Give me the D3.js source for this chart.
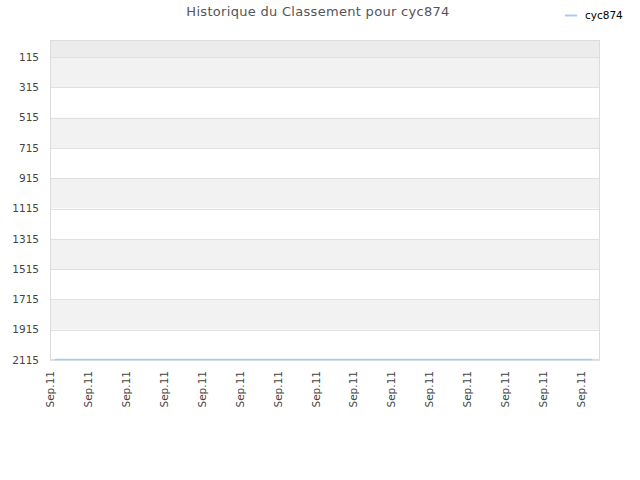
<!DOCTYPE html>
<html><head><meta charset="utf-8">
<script src="https://cdn.jsdelivr.net/npm/d3@7"></script>
<style>body{margin:0;background:#fff}svg{display:block;font-family:"DejaVu Sans",sans-serif}</style>
</head><body>
<script>
const chartTitle = "Historique du Classement pour cyc874";
const seriesName = "cyc874";
const tickLabels = ["Sep.11","Sep.11","Sep.11","Sep.11","Sep.11","Sep.11","Sep.11","Sep.11","Sep.11","Sep.11","Sep.11","Sep.11","Sep.11","Sep.11","Sep.11"];
const tickHours = [0,1,2,3,4,5,6,7,8,9,10,11,12,13,14];
const pointHours = [0.13, 14.29];
const ranks = [2112, 2112];
const yTicks = [115,315,515,715,915,1115,1315,1515,1715,1915,2115];

const W=640,H=480, L=50, R=600, T=40, B=360;
const svg=d3.select("body").append("svg").attr("width",W).attr("height",H);
const x=d3.scaleLinear().domain([0,14.5]).range([L,R]);
const y=d3.scaleLinear().domain([2,2115]).range([T,B]);

// bands
const edges=[2].concat(yTicks);
for(let i=0;i<edges.length-1;i++){
  let fill;
  if(i===0) fill="#ececec";
  else fill = (i%2===1) ? "#f2f2f2" : "#ffffff";
  svg.append("rect").attr("x",L).attr("width",R-L).attr("y",y(edges[i])).attr("height",y(edges[i+1])-y(edges[i])).attr("fill",fill);
}
// grid lines
svg.selectAll(".g").data(yTicks).enter().append("line")
  .attr("x1",L).attr("x2",R).attr("y1",d=>Math.round(y(d))+0.5).attr("y2",d=>Math.round(y(d))+0.5)
  .attr("stroke","#e0e0e0");
// border
svg.append("rect").attr("x",L+0.5).attr("y",T+0.5).attr("width",R-L-1).attr("height",B-T-1)
  .attr("fill","none").attr("stroke","#dcdcdc");

// y labels
svg.selectAll(".yl").data(yTicks).enter().append("text")
  .attr("x",39).attr("y",d=>y(d)).attr("dy","0.35em").attr("text-anchor","end")
  .attr("font-size",10.5).attr("fill","#444").text(d=>d);

// x labels
svg.selectAll(".xl").data(tickHours).enter().append("text")
  .attr("transform",(d)=>`translate(${x(d)+4},371) rotate(-90)`)
  .attr("text-anchor","end").attr("font-size",10.5).attr("fill","#444")
  .text((d,i)=>tickLabels[i]);

// line
const pts=pointHours.map((h,i)=>[h,ranks[i]]);
svg.append("path").datum(pts).attr("fill","none").attr("stroke","#a3cdf0").attr("stroke-width",1.5)
  .attr("d",d3.line().x(d=>x(d[0])).y(d=>y(d[1])));

// title
svg.append("text").attr("x",318).attr("y",16).attr("text-anchor","middle").attr("font-size",13)
  .attr("letter-spacing","0.3px").attr("fill","#555").text(chartTitle);
// legend
svg.append("line").attr("x1",565).attr("x2",577).attr("y1",15.5).attr("y2",15.5).attr("stroke","#a3cdf0").attr("stroke-width",2);
svg.append("text").attr("x",585).attr("y",15).attr("dy","0.35em").attr("font-size",10.5).attr("fill","#000").text(seriesName);
</script>
</body></html>
